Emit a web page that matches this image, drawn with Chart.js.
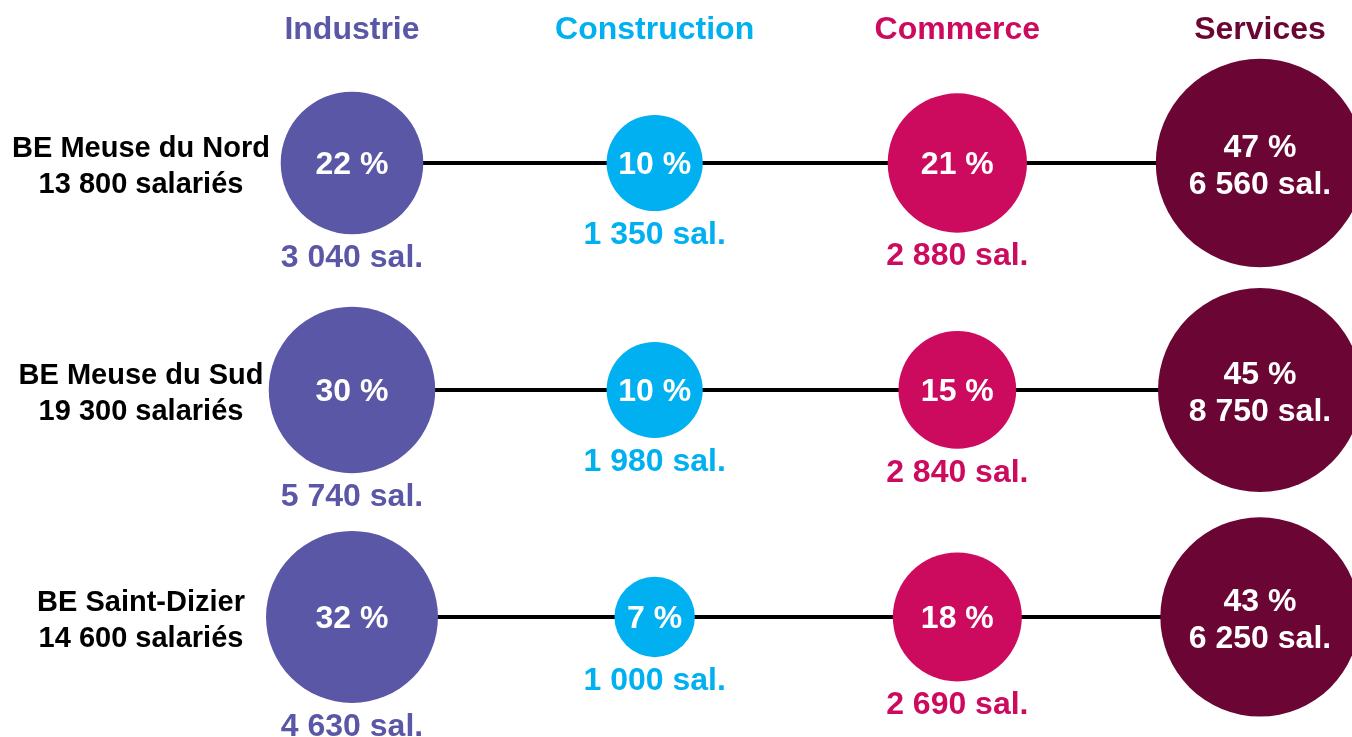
<!DOCTYPE html>
<html lang="fr">
<head>
<meta charset="utf-8">
<script src="https://cdn.jsdelivr.net/npm/chart.js@4.4.1/dist/chart.umd.min.js"></script>
<style>
  html, body { margin: 0; padding: 0; background: #fff; }
  #wrap { width: 1352px; height: 737px; }
</style>
</head>
<body>
<div id="wrap"><canvas id="chart"></canvas></div>
<script>
// Données
const sectors = ['Industrie', 'Construction', 'Commerce', 'Services'];
const zones = ['BE Meuse du Nord', 'BE Meuse du Sud', 'BE Saint-Dizier'];
const zoneTotals = ['13 800 salariés', '19 300 salariés', '14 600 salariés'];

// Part des salariés (%) par secteur, une valeur par zone
const sharesIndustrie = [22, 30, 32];
const sharesConstruction = [10, 10, 7];
const sharesCommerce = [21, 15, 18];
const sharesServices = [47, 45, 43];

// Nombre de salariés par secteur
const salIndustrie = ['3 040', '5 740', '4 630'];
const salConstruction = ['1 350', '1 980', '1 000'];
const salCommerce = ['2 880', '2 840', '2 690'];
const salServices = ['6 560', '8 750', '6 250'];

const shares = [sharesIndustrie, sharesConstruction, sharesCommerce, sharesServices];
const salaries = [salIndustrie, salConstruction, salCommerce, salServices];
const colors = ['#5b57a7', '#00b0f0', '#cc0a5e', '#6b0533'];

// Rayon proportionnel à la racine de la part (surface ~ part)
const RADIUS_FACTOR = 15.2;
const FONT = '"Liberation Sans", Arial, sans-serif';

const bubbleSets = sectors.map((name, s) => ({
  type: 'bubble',
  label: name,
  order: 1,
  clip: false,
  backgroundColor: colors[s],
  hoverBackgroundColor: colors[s],
  borderWidth: 0,
  hoverBorderWidth: 0,
  data: zones.map((z, i) => ({
    x: s,
    y: i,
    r: RADIUS_FACTOR * Math.sqrt(shares[s][i]),
  })),
}));

// Traits horizontaux reliant les secteurs d'une même zone
const lineSets = zones.map((z, i) => ({
  type: 'line',
  label: z,
  order: 2,
  borderColor: '#000',
  borderWidth: 4,
  pointRadius: 0,
  data: [{ x: 0, y: i }, { x: sectors.length - 1, y: i }],
}));

const labelsPlugin = {
  id: 'labels',
  afterDatasetsDraw(chart) {
    const { ctx, scales: { x, y } } = chart;
    ctx.save();
    ctx.textAlign = 'center';
    ctx.textBaseline = 'middle';

    // Titres des colonnes
    ctx.font = `bold 32px ${FONT}`;
    sectors.forEach((name, s) => {
      ctx.fillStyle = colors[s];
      ctx.fillText(name, x.getPixelForValue(s), 30);
    });

    // Libellés des zones
    ctx.font = `bold 29px ${FONT}`;
    ctx.fillStyle = '#000';
    zones.forEach((z, i) => {
      const cy = y.getPixelForValue(i);
      ctx.fillText(z, 141, cy - 14);
      ctx.fillText(zoneTotals[i], 141, cy + 22);
    });

    // Valeurs
    ctx.font = `bold 32px ${FONT}`;
    sectors.forEach((name, s) => {
      const meta = chart.getDatasetMeta(s);
      meta.data.forEach((pt, i) => {
        const r = bubbleSets[s].data[i].r;
        const pct = `${shares[s][i]} %`;
        const sal = `${salaries[s][i]} sal.`;
        ctx.fillStyle = '#fff';
        if (s === sectors.length - 1) {
          ctx.fillText(pct, pt.x, pt.y - 15);
          ctx.fillText(sal, pt.x, pt.y + 22);
        } else {
          ctx.fillText(pct, pt.x, pt.y + 2);
          ctx.fillStyle = colors[s];
          ctx.fillText(sal, pt.x, pt.y + r + 24);
        }
      });
    });
    ctx.restore();
  },
};

new Chart(document.getElementById('chart'), {
  data: { datasets: [...bubbleSets, ...lineSets] },
  options: {
    responsive: true,
    maintainAspectRatio: false,
    animation: false,
    events: [],
    layout: { padding: 0, autoPadding: false },
    plugins: {
      legend: { display: false },
      tooltip: { enabled: false },
    },
    scales: {
      x: {
        type: 'linear',
        display: false,
        min: -1.163,
        max: 3.304,
      },
      y: {
        type: 'linear',
        display: false,
        reverse: true,
        min: -0.718,
        max: 2.529,
      },
    },
  },
  plugins: [labelsPlugin],
});
</script>
</body>
</html>
